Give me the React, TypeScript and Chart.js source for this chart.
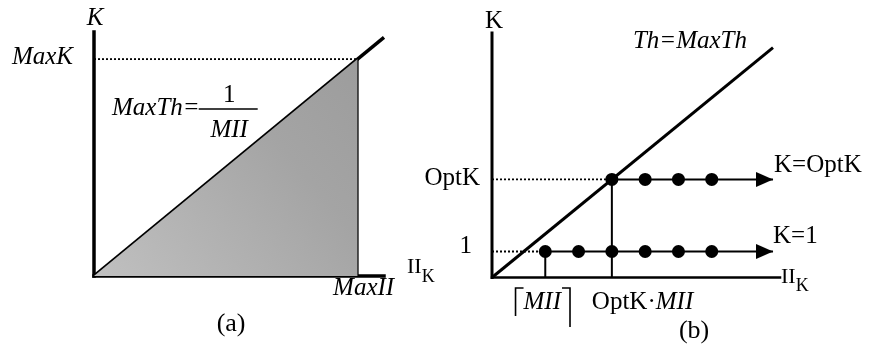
import React, { useEffect, useRef } from 'react';
import { Chart, registerables } from 'chart.js';

Chart.register(...registerables);

const SERIF = '"Liberation Serif", "Times New Roman", serif';

// ---------------- Panel (a) values ----------------
const aAxisMax = { x: 1.1, y: 1.125 };
const aMaxII = 1; // MaxII on the II_K axis
const aMaxK = 1; // MaxK on the K axis
const aThLine = [
  { x: 0, y: 0 },
  { x: 1.1, y: 1.1 },
]; // MaxTh = 1 / MII
const aFeasible = [
  { x: 0, y: 0 },
  { x: aMaxII, y: aMaxK },
];
const aXTickLabels = ['MaxII'];
const aYTickLabels = ['MaxK'];

// ---------------- Panel (b) values ----------------
const bAxisMax = { x: 8.65, y: 9.4 };
const bOptK = 3.77;
const bCeilMII = 1.6;
const bOptKMII = 3.6;
const bK1Points = [1.6, 2.6, 3.6, 4.6, 5.6, 6.6];
const bOptKPoints = [3.6, 4.6, 5.6, 6.6];
const bArrowEnd = 8.44;
const bThLine = [
  { x: 0, y: 0 },
  { x: 8.44, y: 8.84 },
]; // Th = MaxTh
const bYTickValues = [1, bOptK];
const bYTickLabels = ['1', 'OptK'];

type Run = { t: string; italic?: boolean; size?: number; rise?: number };
type Label = {
  runs: Run[];
  x: number;
  y: number;
  dx?: number;
  dy?: number;
  align?: 'left' | 'center' | 'right';
  size?: number;
};

function fontOf(r: Run, base: number) {
  return `${r.italic ? 'italic ' : ''}${r.size ?? base}px ${SERIF}`;
}

function drawRuns(ctx: CanvasRenderingContext2D, runs: Run[], px: number, py: number, align: string, base: number) {
  let total = 0;
  const widths = runs.map((r) => {
    ctx.font = fontOf(r, base);
    const w = ctx.measureText(r.t).width;
    total += w;
    return w;
  });
  let x = align === 'center' ? px - total / 2 : align === 'right' ? px - total : px;
  const start = x;
  runs.forEach((r, i) => {
    ctx.font = fontOf(r, base);
    ctx.fillText(r.t, x, py + (r.rise ?? 0));
    x += widths[i];
  });
  return { left: start, right: x, width: total };
}

function labelPlugin(id: string, labels: Label[], extra?: (chart: any) => void) {
  return {
    id,
    afterDatasetsDraw(chart: any) {
      const ctx: CanvasRenderingContext2D = chart.ctx;
      const xs = chart.scales.x;
      const ys = chart.scales.y;
      ctx.save();
      ctx.fillStyle = '#000';
      ctx.strokeStyle = '#000';
      ctx.textBaseline = 'alphabetic';
      ctx.textAlign = 'left';
      for (const l of labels) {
        const px = xs.getPixelForValue(l.x) + (l.dx ?? 0);
        const py = ys.getPixelForValue(l.y) + (l.dy ?? 0);
        drawRuns(ctx, l.runs, px, py, l.align ?? 'left', l.size ?? 25);
      }
      if (extra) extra(chart);
      ctx.restore();
    },
  };
}

const seg = (data: any[], width: number, extra: any = {}) => ({
  data,
  showLine: true,
  borderColor: '#000',
  backgroundColor: '#000',
  borderWidth: width,
  pointRadius: 0,
  fill: false,
  clip: false,
  borderCapStyle: 'butt',
  ...extra,
});

const baseOptions = (xmax: number, ymax: number, padding: any) => ({
  responsive: false,
  animation: false,
  events: [],
  layout: { padding },
  plugins: {
    legend: { display: false },
    tooltip: { enabled: false },
    title: { display: false },
  },
  scales: {
    x: { type: 'linear', min: 0, max: xmax, display: false },
    y: { type: 'linear', min: 0, max: ymax, display: false },
  },
  elements: { line: { tension: 0 } },
});

function makeA(canvas: HTMLCanvasElement) {
  const labels: Label[] = [
    { runs: [{ t: 'K', italic: true }], x: 0, y: aAxisMax.y, dx: 1, dy: -7, align: 'center' },
    { runs: [{ t: aYTickLabels[0], italic: true }], x: 0, y: aMaxK, dx: -21, dy: 5, align: 'right' },
    { runs: [{ t: aXTickLabels[0], italic: true }], x: aMaxII, y: 0, dx: 6, dy: 19, align: 'center' },
    {
      runs: [
        { t: 'II', size: 22 },
        { t: 'K', size: 18, rise: 9 },
      ],
      x: aAxisMax.x,
      y: 0,
      dx: 23,
      dy: -3,
      align: 'left',
    },
    { runs: [{ t: '(a)' }], x: 0.52, y: 0, dy: 55, align: 'center', size: 26 },
  ];
  const formula = (chart: any) => {
    const ctx: CanvasRenderingContext2D = chart.ctx;
    const px = chart.scales.x.getPixelForValue(0) + 18;
    const py = chart.scales.y.getPixelForValue(aMaxK) + 56;
    const r = drawRuns(ctx, [{ t: 'MaxTh=', italic: true }], px, py, 'left', 25);
    const bx0 = r.right - 1;
    const bx1 = bx0 + 59;
    const by = py - 6;
    ctx.lineWidth = 1.5;
    ctx.beginPath();
    ctx.moveTo(bx0, by);
    ctx.lineTo(bx1, by);
    ctx.stroke();
    const cx = (bx0 + bx1) / 2 + 1;
    drawRuns(ctx, [{ t: '1' }], cx, py - 13, 'center', 25);
    drawRuns(ctx, [{ t: 'MII', italic: true }], cx, py + 22, 'center', 25);
  };
  return new Chart(canvas, {
    type: 'scatter',
    data: {
      datasets: [
        seg(aFeasible, 0, {
          fill: 'origin',
          backgroundColor: (c: any) => {
            const ca = c.chart.chartArea;
            if (!ca) return '#aaa';
            const g = c.chart.ctx.createLinearGradient(ca.left, ca.bottom, ca.right, ca.top);
            g.addColorStop(0, '#c0c0c0');
            g.addColorStop(0.6, '#a4a4a4');
            g.addColorStop(1, '#9a9a9a');
            return g;
          },
        }),
        seg(
          [
            { x: 0, y: aMaxK },
            { x: aMaxII, y: aMaxK },
          ],
          1.8,
          { borderDash: [2, 2] }
        ),
        seg(
          [
            { x: aMaxII, y: 0 },
            { x: aMaxII, y: aMaxK },
          ],
          2
        ),
        seg(aThLine, 3.5),
        seg(
          [
            { x: 0, y: 0 },
            { x: 0, y: aAxisMax.y },
          ],
          3.5,
          { borderCapStyle: 'square' }
        ),
        seg(
          [
            { x: 0, y: 0 },
            { x: aAxisMax.x, y: 0 },
          ],
          3.5,
          { borderCapStyle: 'square' }
        ),
      ],
    },
    options: baseOptions(aAxisMax.x, aAxisMax.y, { left: 94, right: 66, top: 32, bottom: 71 }) as any,
    plugins: [labelPlugin('labelsA', labels, formula)],
  } as any);
}

function arrowHead(L: number, H: number) {
  const c = document.createElement('canvas');
  c.width = 2 * L;
  c.height = H;
  const g = c.getContext('2d')!;
  g.fillStyle = '#000';
  g.beginPath();
  g.moveTo(0, 0);
  g.lineTo(L, H / 2);
  g.lineTo(0, H);
  g.closePath();
  g.fill();
  return c;
}

function makeB(canvas: HTMLCanvasElement) {
  const labels: Label[] = [
    { runs: [{ t: 'K' }], x: 0, y: bAxisMax.y, dx: 2, dy: -5, align: 'center' },
    { runs: [{ t: 'Th=MaxTh', italic: true }], x: bThLine[1].x, y: bThLine[1].y, dx: -26, dy: 0, align: 'right' },
    { runs: [{ t: bYTickLabels[1] }], x: 0, y: bYTickValues[1], dx: -12, dy: 6, align: 'right' },
    { runs: [{ t: bYTickLabels[0] }], x: 0, y: bYTickValues[0], dx: -20, dy: 2, align: 'right' },
    { runs: [{ t: 'K=OptK' }], x: bArrowEnd, y: bOptK, dx: 1, dy: -7, align: 'left' },
    { runs: [{ t: 'K=1' }], x: bArrowEnd, y: 1, dx: 0, dy: -8, align: 'left' },
    {
      runs: [
        { t: 'II', size: 22 },
        { t: 'K', size: 18, rise: 8 },
      ],
      x: bAxisMax.x,
      y: 0,
      dx: 1,
      dy: 5,
      align: 'left',
    },
    {
      runs: [{ t: 'OptK·' }, { t: 'MII', italic: true }],
      x: bOptKMII,
      y: 0,
      dx: -20,
      dy: 31.5,
      align: 'left',
    },
    { runs: [{ t: '(b)' }], x: 6.07, y: 0, dy: 60, align: 'center', size: 26 },
  ];
  const ceil = (chart: any) => {
    const ctx: CanvasRenderingContext2D = chart.ctx;
    const px = chart.scales.x.getPixelForValue(bCeilMII) - 3;
    const py = chart.scales.y.getPixelForValue(0) + 31.5;
    const r = drawRuns(ctx, [{ t: 'MII', italic: true }], px, py, 'center', 25);
    const lx = r.left - 8;
    const rx = r.right + 9;
    const top = py - 21;
    ctx.lineWidth = 1.6;
    ctx.beginPath();
    ctx.moveTo(lx + 8, top);
    ctx.lineTo(lx, top);
    ctx.lineTo(lx, py + 7);
    ctx.moveTo(rx - 8, top);
    ctx.lineTo(rx, top);
    ctx.lineTo(rx, py + 18);
    ctx.stroke();
  };
  const arrow = arrowHead(17, 15);
  return new Chart(canvas, {
    type: 'scatter',
    data: {
      datasets: [
        seg(
          [
            { x: 0, y: 1 },
            { x: bCeilMII, y: 1 },
          ],
          1.8,
          { borderDash: [2, 2] }
        ),
        seg(
          [
            { x: 0, y: bOptK },
            { x: bOptKMII, y: bOptK },
          ],
          1.8,
          { borderDash: [2, 2] }
        ),
        seg(
          [
            { x: bCeilMII, y: 0 },
            { x: bCeilMII, y: 1 },
          ],
          2
        ),
        seg(
          [
            { x: bOptKMII, y: 0 },
            { x: bOptKMII, y: bOptK },
          ],
          2
        ),
        seg(
          [
            { x: bK1Points[0], y: 1 },
            { x: bArrowEnd, y: 1 },
          ],
          2
        ),
        seg(
          [
            { x: bOptKPoints[0], y: bOptK },
            { x: bArrowEnd, y: bOptK },
          ],
          2
        ),
        seg(bThLine, 3),
        seg(
          [
            { x: 0, y: 0 },
            { x: 0, y: bAxisMax.y },
          ],
          3,
          { borderCapStyle: 'square' }
        ),
        seg(
          [
            { x: 0, y: 0 },
            { x: bAxisMax.x, y: 0 },
          ],
          2.5,
          { borderCapStyle: 'square' }
        ),
        {
          data: bK1Points.map((x) => ({ x, y: 1 })),
          showLine: false,
          pointRadius: 6.5,
          pointBackgroundColor: '#000',
          pointBorderColor: '#000',
          pointBorderWidth: 0,
          clip: false,
        },
        {
          data: bOptKPoints.map((x) => ({ x, y: bOptK })),
          showLine: false,
          pointRadius: 6.5,
          pointBackgroundColor: '#000',
          pointBorderColor: '#000',
          pointBorderWidth: 0,
          clip: false,
        },
        {
          data: [
            { x: bArrowEnd, y: 1 },
            { x: bArrowEnd, y: bOptK },
          ],
          showLine: false,
          pointStyle: arrow,
          pointRadius: 8,
          clip: false,
        },
      ],
    },
    options: baseOptions(bAxisMax.x, bAxisMax.y, { left: 102, right: 89, top: 33, bottom: 69.5 }) as any,
    plugins: [labelPlugin('labelsB', labels, ceil)],
  } as any);
}

export default function App() {
  const refA = useRef<HTMLCanvasElement>(null);
  const refB = useRef<HTMLCanvasElement>(null);
  useEffect(() => {
    const charts: Chart[] = [];
    if (refA.current) charts.push(makeA(refA.current));
    if (refB.current) charts.push(makeB(refB.current));
    return () => charts.forEach((c) => c.destroy());
  }, []);
  return (
    <div style={{ position: 'absolute', left: 0, top: 0, width: 869, height: 347, background: '#fff' }}>
      <canvas ref={refA} width={450} height={347} style={{ position: 'absolute', left: 0, top: 0 }} />
      <canvas ref={refB} width={479} height={347} style={{ position: 'absolute', left: 390, top: 0 }} />
    </div>
  );
}
